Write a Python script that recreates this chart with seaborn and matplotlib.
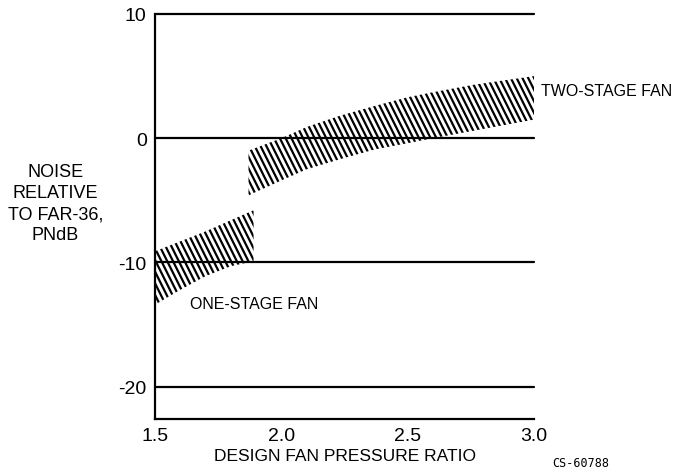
import numpy as np
import matplotlib
matplotlib.use('Agg')
import matplotlib.pyplot as plt
from matplotlib.collections import LineCollection
from matplotlib.transforms import IdentityTransform
import seaborn as sns

# band (noise relative to FAR-36, PNdB)
one_x = [1.5, 1.6, 1.7, 1.8, 1.89]
one_hi = [-9.1, -8.3, -7.5, -6.6, -5.8]
one_lo = [-13.4, -12.2, -11.1, -10.3, -9.9]

two_x = [1.87, 2.0, 2.1, 2.23, 2.37, 2.5, 2.6, 2.76, 3.0]
two_hi = [-1.0, 0.0, 0.9, 1.8, 2.6, 3.3, 3.7, 4.3, 5.0]
two_lo = [-4.6, -3.4, -2.5, -1.7, -0.9, -0.4, 0.0, 0.6, 1.5]

x_ticks = [1.5, 2.0, 2.5, 3.0]
x_labels = ['1.5', '2.0', '2.5', '3.0']
y_ticks = [10, 0, -10, -20]
y_labels = ['10', '0', '-10', '-20']

sns.set_theme(style='white')
plt.rcParams['font.family'] = ['Liberation Sans', 'DejaVu Sans']
plt.rcParams['text.color'] = 'black'
plt.rcParams['xtick.color'] = 'black'
plt.rcParams['ytick.color'] = 'black'
plt.rcParams['axes.labelcolor'] = 'black'

fig = plt.figure(figsize=(6.82, 4.77), dpi=100)
ax = fig.add_axes([0.2273, 0.1195, 0.783 - 0.2273, 0.9686 - 0.1195])
ax.set_xlim(1.5, 3.0)
ax.set_ylim(-22.6, 10)


def hatch_band(x, lo, hi):
    poly = ax.fill_between(x, lo, hi, facecolor='none', linewidth=0)
    # steep diagonal hatching like the original drawing
    segs = []
    for x0 in np.arange(-300, 900, 5.8):
        segs.append([(x0, 477), (x0 + 238, 0)])
    lc = LineCollection(segs, colors='black', linewidths=1.6, transform=IdentityTransform())
    fig.add_artist(lc)
    lc.set_clip_path(poly.get_paths()[0], poly.get_transform())


hatch_band(one_x, one_lo, one_hi)
hatch_band(two_x, two_lo, two_hi)

for yv in y_ticks:
    ax.axhline(yv, color='black', linewidth=1.6, clip_on=False)

sns.despine(ax=ax, top=True, right=True)
for s in ['left', 'bottom']:
    ax.spines[s].set_color('black')
    ax.spines[s].set_linewidth(1.6)

ax.set_xticks(x_ticks)
ax.set_xticklabels(x_labels, fontsize=14)
ax.set_yticks(y_ticks)
ax.set_yticklabels(y_labels, fontsize=14)
ax.tick_params(axis='x', direction='in', length=9, width=1.3, pad=6)
ax.tick_params(axis='y', length=0, pad=6)

ax.set_xlabel('DESIGN FAN PRESSURE RATIO', fontsize=12.5, labelpad=3)

fig.text(0.081, 0.572, 'NOISE\nRELATIVE\nTO FAR-36,\nPNdB', ha='center', va='center',
         fontsize=13, linespacing=1.3)
ax.text(3.028, 3.85, 'TWO-STAGE FAN', ha='left', va='center', fontsize=11.5, clip_on=False)
ax.text(1.639, -13.3, 'ONE-STAGE FAN', ha='left', va='center', fontsize=11.5)
fig.text(0.81, 0.015, 'CS-60788', ha='left', va='bottom', fontsize=8.5,
         family=['DejaVu Sans Mono'])

fig.savefig('out.png', dpi=100)
